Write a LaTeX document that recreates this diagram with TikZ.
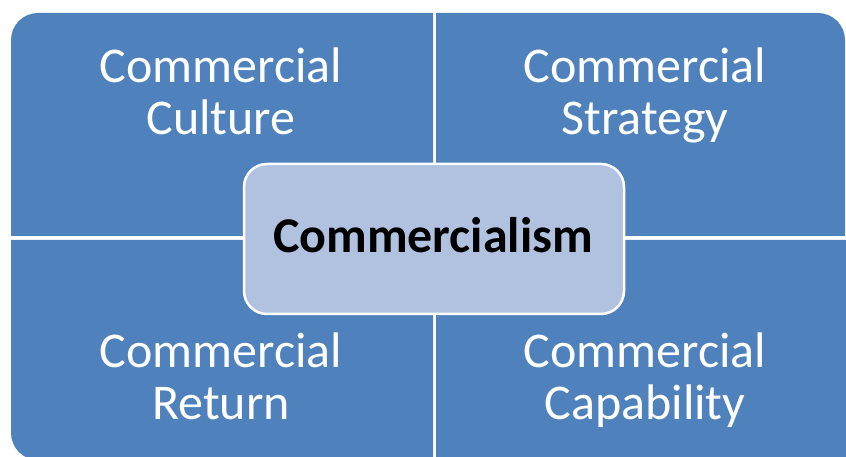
\documentclass[tikz,border=0pt]{standalone}
\usepackage{fontspec}
\setmainfont{Carlito}
\definecolor{quadblue}{HTML}{4F81BD}
\definecolor{hubfill}{HTML}{B0C2DF}
\begin{document}
\begin{tikzpicture}[x=1pt,y=1pt,
  quad/.style={fill=quadblue,draw=none},
  quadtext/.style={anchor=base,text=white,inner sep=0pt,
    font=\fontsize{50pt}{52pt}\selectfont},
  hub/.style={rectangle,rounded corners=23pt,fill=hubfill,draw=white,
    line width=2.5pt,minimum width=380pt,minimum height=150pt,inner sep=0pt},
  hubtext/.style={anchor=base,text=black,inner sep=0pt,
    font=\fontsize{50pt}{52pt}\selectfont\bfseries}]
  \useasboundingbox (0,0) rectangle (846,457);
  \begin{scope}
    \clip (0,0) rectangle (846,457);
    % four quadrants, each with one rounded outer corner
    \fill[quad] (11,221) -- (11,417) arc[start angle=180,end angle=90,radius=27]
      -- (433,444) -- (433,221) -- cycle;
    \fill[quad] (436,221) -- (436,444) -- (818,444)
      arc[start angle=90,end angle=0,radius=27] -- (845,221) -- cycle;
    \fill[quad] (11,217) -- (11,24) arc[start angle=180,end angle=270,radius=27]
      -- (433,-3) -- (433,217) -- cycle;
    \fill[quad] (436,217) -- (436,-6) -- (831,-6)
      arc[start angle=270,end angle=360,radius=27] -- (858,217) -- cycle;
  \end{scope}
  % quadrant labels
  \node[quadtext] (culture) at (221,374)
    {\begin{tabular}[t]{@{}c@{}}Commercial\\Culture\end{tabular}};
  \node[quadtext] (strategy) at (645,374)
    {\begin{tabular}[t]{@{}c@{}}Commercial\\Strategy\end{tabular}};
  \node[quadtext] (return) at (221,89)
    {\begin{tabular}[t]{@{}c@{}}Commercial\\Return\end{tabular}};
  \node[quadtext] (capability) at (645,89)
    {\begin{tabular}[t]{@{}c@{}}Commercial\\Capability\end{tabular}};
  % central hub
  \node[hub] (hub) at (434,218) {};
  \node[hubtext] (hublabel) at (433,204) {Commercialism};
\end{tikzpicture}
\end{document}
